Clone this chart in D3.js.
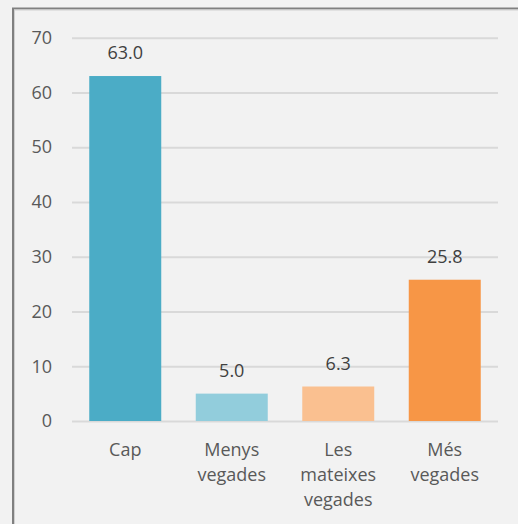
<!DOCTYPE html>
<html><head><meta charset="utf-8">
<script src="https://cdn.jsdelivr.net/npm/d3@7"></script>
<style>
html,body{margin:0;padding:0;background:#f2f2f2;overflow:hidden;}
svg{display:block;}
</style></head>
<body>
<svg id="chart" width="518" height="524"></svg>
<script>
const categories = ["Cap", "Menys vegades", "Les mateixes vegades", "Més vegades"];
const values = [63.0, 5.0, 6.3, 25.8];
const valueLabels = ["63.0", "5.0", "6.3", "25.8"];
const colors = ["#4bacc6", "#92cddc", "#fac090", "#f79646"];
const yTicks = [0, 10, 20, 30, 40, 50, 60, 70];

const svg = d3.select("#chart");
const font = "'Open Sans', sans-serif";
const fs = 18;
const plot = {left: 72, right: 498, top: 37.7, bottom: 421};

svg.append("rect").attr("width", 518).attr("height", 524).attr("fill", "#f2f2f2");
// frame
svg.append("rect").attr("x", 13).attr("y", 8.5).attr("width", 540).attr("height", 540)
  .attr("fill", "none").attr("stroke", "#808080").attr("stroke-width", 2);
svg.append("rect").attr("x", 14.5).attr("y", 10).attr("width", 540).attr("height", 540)
  .attr("fill", "none").attr("stroke", "#d0d0d0").attr("stroke-width", 1);

const y = d3.scaleLinear().domain([0, 70]).range([plot.bottom, plot.top]);
const x = d3.scaleBand().domain(categories).range([plot.left, plot.right]).paddingInner(0.324).paddingOuter(0.162);

// gridlines
const yAxis = d3.axisLeft(y).tickValues(yTicks).tickSize(-(plot.right - plot.left)).tickPadding(20).tickFormat(d3.format("d"));
const gy = svg.append("g").attr("transform", `translate(${plot.left},0)`).call(yAxis);
gy.select(".domain").remove();
gy.selectAll(".tick line").attr("stroke", "#d9d9d9").attr("stroke-width", 2);
gy.selectAll(".tick text").attr("fill", "#595959").attr("font-family", font).attr("font-size", fs);

// bars
svg.append("g").selectAll("rect").data(values).join("rect")
  .attr("x", (d, i) => x(categories[i]))
  .attr("y", d => y(d))
  .attr("width", x.bandwidth())
  .attr("height", d => y(0) - y(d))
  .attr("fill", (d, i) => colors[i]);

// value labels
svg.append("g").selectAll("text").data(values).join("text")
  .attr("x", (d, i) => x(categories[i]) + x.bandwidth() / 2)
  .attr("y", d => y(d) - 17)
  .attr("text-anchor", "middle")
  .attr("fill", "#404040").attr("font-family", font).attr("font-size", fs)
  .text((d, i) => valueLabels[i]);

// category labels
const gx = svg.append("g");
categories.forEach((c, i) => {
  const t = gx.append("text")
    .attr("x", x(c) + x.bandwidth() / 2)
    .attr("y", 456)
    .attr("text-anchor", "middle")
    .attr("fill", "#595959").attr("font-family", font).attr("font-size", fs);
  c.split(" ").forEach((w, j) => {
    t.append("tspan").attr("x", x(c) + x.bandwidth() / 2).attr("dy", j === 0 ? 0 : 25).text(w);
  });
});
</script>
</body></html>
